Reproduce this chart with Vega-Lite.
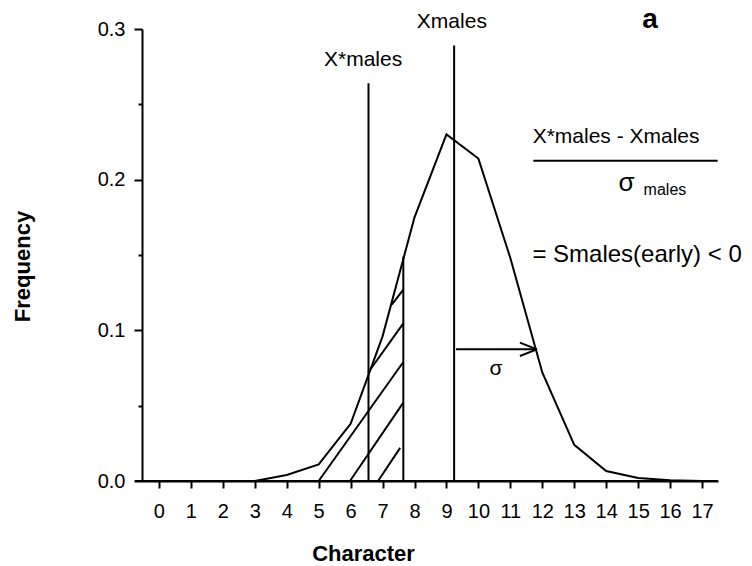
{
  "$schema": "https://vega.github.io/schema/vega-lite/v6.json",
  "width": 576,
  "height": 452,
  "autosize": {"type": "none"},
  "padding": {"left": 142, "top": 29, "right": 34, "bottom": 85},
  "background": "white",
  "config": {
    "view": {"stroke": null},
    "font": "Liberation Sans",
    "axis": {
      "domainColor": "black", "domainWidth": 2, "tickColor": "black", "tickWidth": 2,
      "labelColor": "black", "labelFont": "Liberation Sans", "labelFontSize": 20,
      "titleColor": "black", "titleFont": "Liberation Sans", "titleFontSize": 22, "titleFontWeight": "bold",
      "grid": false
    }
  },
  "datasets": {
    "curve": [
      {"c": 0, "f": 0}, {"c": 1, "f": 0}, {"c": 2, "f": 0}, {"c": 3, "f": 0},
      {"c": 4, "f": 0.004}, {"c": 5, "f": 0.011}, {"c": 6, "f": 0.038}, {"c": 7, "f": 0.096},
      {"c": 8, "f": 0.175}, {"c": 9, "f": 0.23}, {"c": 10, "f": 0.214}, {"c": 11, "f": 0.148},
      {"c": 12, "f": 0.072}, {"c": 13, "f": 0.024}, {"c": 14, "f": 0.0066}, {"c": 15, "f": 0.002},
      {"c": 16, "f": 0.0005}, {"c": 17, "f": 0}
    ],
    "verticals": [
      {"x": 6.56, "y": 0, "y2": 0.264},
      {"x": 9.24, "y": 0, "y2": 0.289},
      {"x": 7.65, "y": 0, "y2": 0.149}
    ],
    "segments": [
      {"x": 7.29, "y": 0.117, "x2": 7.65, "y2": 0.127},
      {"x": 6.55, "y": 0.072, "x2": 7.65, "y2": 0.1046},
      {"x": 5.0, "y": 0, "x2": 7.65, "y2": 0.079},
      {"x": 5.98, "y": 0, "x2": 7.65, "y2": 0.052},
      {"x": 6.86, "y": 0, "x2": 7.55, "y2": 0.022},
      {"x": 9.3, "y": 0.0874, "x2": 11.83, "y2": 0.0874},
      {"x": 11.3, "y": 0.0918, "x2": 11.83, "y2": 0.0874},
      {"x": 11.3, "y": 0.083, "x2": 11.83, "y2": 0.0874},
      {"x": 11.72, "y": 0.2125, "x2": 17.49, "y2": 0.2125},
      {"x": -0.75, "y": 0, "x2": 17.5, "y2": 0}
    ],
    "labels21": [
      {"x": 6.39, "y": 0.2794, "t": "X*males"},
      {"x": 9.17, "y": 0.3046, "t": "Xmales"},
      {"x": 14.31, "y": 0.2285, "t": "X*males - Xmales"},
      {"x": 10.55, "y": 0.0741, "t": "σ"}
    ],
    "eq": [{"x": 11.69, "y": 0.15, "t": "= Smales(early) < 0"}],
    "sigma": [{"x": 14.64, "y": 0.1975, "t": "σ"}],
    "sub": [{"x": 15.84, "y": 0.193, "t": "males"}],
    "panel": [{"x": 15.37, "y": 0.306, "t": "a"}]
  },
  "encoding": {
    "x": {
      "type": "quantitative",
      "scale": {"domain": [-0.53, 17.5], "nice": false, "zero": false},
      "axis": {
        "title": "Character", "values": [0,1,2,3,4,5,6,7,8,9,10,11,12,13,14,15,16,17],
        "tickCount": 18, "labelOverlap": false, "labelFlush": false,
        "format": "d", "tickSize": 7, "labelPadding": 13, "labelFontSize": 20,
        "titleX": 221, "titleY": 72, "titleBaseline": "middle", "titleAlign": "center"
      }
    },
    "y": {
      "type": "quantitative",
      "scale": {"domain": [0, 0.3], "nice": false},
      "axis": {
        "title": "Frequency",
        "values": [0, 0.05, 0.1, 0.15, 0.2, 0.25, 0.3],
        "labelOverlap": false, "labelFlush": false, "labelFontSize": 20,
        "labelExpr": "round(datum.value*100) % 10 == 0 ? format(datum.value, '.1f') : ''",
        "tickSize": {"condition": {"test": "round(datum.value*100) % 10 == 0", "value": 8}, "value": 4},
        "labelPadding": 9,
        "titleX": -120, "titleY": 237, "titleAngle": -90, "titleBaseline": "middle", "titleAlign": "center"
      }
    }
  },
  "layer": [
    {
      "data": {"name": "curve"},
      "mark": {"type": "line", "color": "black", "strokeWidth": 2},
      "encoding": {
        "x": {"field": "c"},
        "y": {"field": "f"}
      }
    },
    {
      "data": {"name": "verticals"},
      "mark": {"type": "rule", "color": "black", "strokeWidth": 2},
      "encoding": {
        "x": {"field": "x"},
        "y": {"field": "y"},
        "y2": {"field": "y2"}
      }
    },
    {
      "data": {"name": "segments"},
      "mark": {"type": "rule", "color": "black", "strokeWidth": 2},
      "encoding": {
        "x": {"field": "x"},
        "y": {"field": "y"},
        "x2": {"field": "x2"},
        "y2": {"field": "y2"}
      }
    },
    {
      "data": {"name": "labels21"},
      "mark": {"type": "text", "fontSize": 21, "font": "Liberation Sans", "color": "black", "align": "center", "baseline": "middle"},
      "encoding": {
        "x": {"field": "x"},
        "y": {"field": "y"},
        "text": {"field": "t"}
      }
    },
    {
      "data": {"name": "eq"},
      "mark": {"type": "text", "fontSize": 24, "font": "Liberation Sans", "color": "black", "align": "left", "baseline": "middle"},
      "encoding": {
        "x": {"field": "x"},
        "y": {"field": "y"},
        "text": {"field": "t"}
      }
    },
    {
      "data": {"name": "sigma"},
      "mark": {"type": "text", "fontSize": 26, "font": "Liberation Sans", "color": "black", "align": "center", "baseline": "middle"},
      "encoding": {
        "x": {"field": "x"},
        "y": {"field": "y"},
        "text": {"field": "t"}
      }
    },
    {
      "data": {"name": "sub"},
      "mark": {"type": "text", "fontSize": 16, "font": "Liberation Sans", "color": "black", "align": "center", "baseline": "middle"},
      "encoding": {
        "x": {"field": "x"},
        "y": {"field": "y"},
        "text": {"field": "t"}
      }
    },
    {
      "data": {"name": "panel"},
      "mark": {"type": "text", "fontSize": 28, "font": "Liberation Sans", "fontWeight": "bold", "color": "black", "align": "center", "baseline": "middle"},
      "encoding": {
        "x": {"field": "x"},
        "y": {"field": "y"},
        "text": {"field": "t"}
      }
    }
  ]
}
